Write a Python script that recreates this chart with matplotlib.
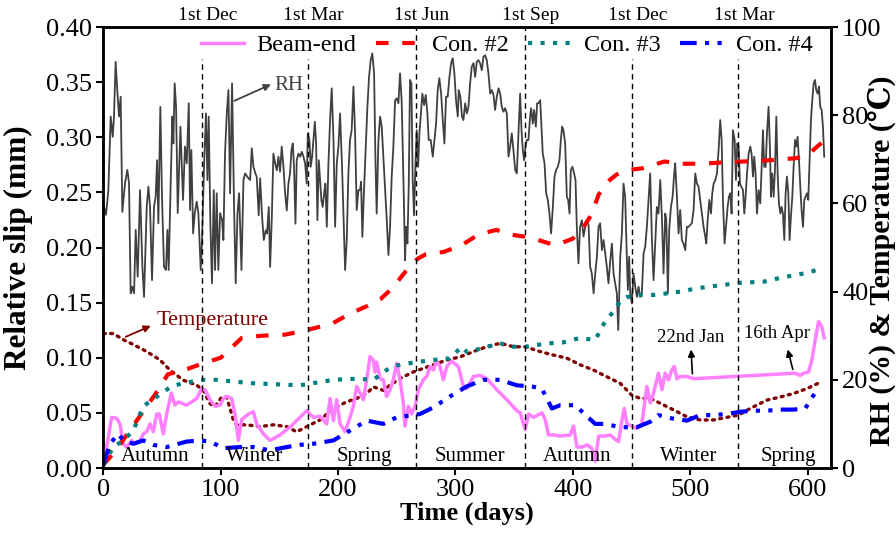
""" slip_rh_temp - relative slip of beam-end and connectors vs. RH and temperature.
"""
import matplotlib.pyplot as plt

plt.rcParams['font.family'] = ['Liberation Serif', 'DejaVu Serif', 'DejaVu Sans']

#-------------------------------------------------------------------------------
# Relative humidity (%) - right axis
rh_day = [0.0, 2.3, 4.3, 6.3, 8.0, 9.1, 10.5, 11.9, 13.4, 14.8, 16.2, 18.5, 20.5, 21.9,
          23.3, 24.7, 26.2, 27.6, 29.3, 31.3, 33.3, 34.7, 37.0, 38.4, 39.8, 41.5, 43.2,
          44.6, 45.8, 46.9, 48.6, 50.0, 51.7, 53.4, 54.6, 55.7, 57.4, 58.8, 59.7, 60.8,
          62.0, 63.4, 65.7, 67.9, 69.6, 71.1, 72.8, 73.9, 75.0, 76.5, 77.9, 79.6, 81.0,
          83.0, 84.1, 85.8, 87.5, 88.7, 89.8, 91.2, 92.6, 94.1, 95.2, 96.6, 98.0, 99.5,
          101.2, 102.3, 103.7,
          105.2, 106.6, 108.0, 109.7, 111.4, 112.8, 114.3, 115.7, 117.7, 119.4, 120.8,
          122.8, 125.1, 126.5, 127.9, 129.6, 130.7, 132.4, 133.6, 135.3, 136.7, 138.4,
          139.5, 141.0, 142.1, 143.5, 144.9, 146.4, 147.8, 149.2, 150.6, 152.0, 153.5,
          154.9, 156.3, 157.7, 159.1, 160.3, 161.4, 162.5, 163.7, 164.8, 166.2, 167.7,
          169.1, 170.5, 171.9, 173.3, 174.2, 175.6, 176.7, 177.9, 179.0, 180.2, 181.3,
          182.4, 183.6, 184.7, 185.8, 186.9, 188.1, 189.2, 190.4, 191.8, 193.2, 194.6,
          196.1, 197.5, 198.9, 200.3, 201.7, 203.4,
          206.0, 207.4, 208.8, 210.2, 211.6, 213.1, 214.5, 215.9, 217.3, 218.7, 219.6,
          220.7, 222.1, 223.6, 225.0, 226.4, 227.8, 229.2, 230.7, 231.8, 232.9, 234.4,
          235.8, 237.2, 238.6, 240.0, 241.5, 242.9, 244.3, 245.7, 247.1, 248.6, 250.0,
          251.4, 252.8, 254.2, 255.7, 257.1, 257.9, 259.1, 260.2, 261.3, 262.5, 263.6,
          264.7, 265.9, 267.0, 268.2, 269.3, 270.4, 271.8, 273.3, 274.7, 276.1, 277.2,
          278.9, 280.7, 282.1, 283.5, 284.9, 286.3, 287.8, 289.2, 290.6, 292.0, 293.4,
          294.9, 296.3, 297.7, 299.1, 300.5, 302.0, 302.8, 304.2, 305.6,
          306.8, 308.3, 309.7, 311.1, 312.5, 313.9, 315.4, 316.8, 318.2, 319.6, 321.0,
          322.5, 323.9, 325.3, 326.7, 328.1, 329.6, 331.0, 332.4, 333.8, 335.2, 336.7,
          338.1, 339.5, 340.9, 342.3, 343.8, 345.2, 346.6, 348.0, 349.4, 350.9, 352.3,
          353.7, 355.1, 356.3, 357.4, 358.5, 359.7, 360.8, 362.2, 363.6, 364.5, 365.9,
          367.0, 368.5, 369.6, 370.7, 372.2, 373.3, 374.4, 375.9, 377.3, 378.7, 380.1,
          381.5, 383.0, 384.4, 385.8, 387.2, 388.6, 389.8, 390.9, 392.0, 393.5, 394.9,
          396.0, 397.2, 398.3, 399.7, 401.1, 402.3, 403.4, 404.8, 406.2, 407.7, 409.1,
          410.6, 412.0, 413.4, 414.8, 416.2, 417.7, 419.1, 420.5, 421.9, 423.3, 424.8,
          426.2, 427.6, 429.0, 430.4, 431.9, 433.3, 434.7, 436.1, 437.5, 438.7, 440.4,
          441.8, 443.2, 444.6, 446.1, 446.9, 448.0, 448.9, 450.3, 451.7, 453.2, 454.6,
          456.0, 457.4, 458.8, 460.3, 461.7, 463.1, 464.5, 465.9, 467.4, 468.8, 470.2,
          471.6, 473.0, 474.5, 475.9, 477.3, 478.7, 479.6, 481.0, 482.1, 483.6, 485.0,
          486.4, 487.2, 488.7, 490.1, 491.5, 492.9, 494.3, 495.8, 497.2, 498.6, 500.0,
          501.4, 502.9, 504.3, 505.7, 507.1, 508.5,
          510.0, 511.4, 512.9, 513.7, 514.9, 516.3, 517.7, 518.8, 520.0, 521.4, 522.8,
          524.2, 525.6, 526.8, 527.9, 529.3, 530.5, 531.9, 533.0, 534.2, 535.3, 536.4,
          537.9, 539.0, 540.1, 541.3, 542.4, 543.5, 545.0, 546.1, 547.2, 548.4, 549.8,
          551.2, 552.3, 553.5, 554.6, 555.7, 556.9, 558.3, 559.7, 560.9, 562.0, 563.1,
          564.3, 565.4, 566.8, 568.0, 568.8, 569.9, 571.1, 572.2, 573.4, 574.5, 575.6,
          576.8, 577.9, 579.0, 580.2, 581.3, 582.4, 583.6, 584.7, 585.8, 587.0, 588.1,
          589.3, 590.4, 591.5, 592.7, 593.8, 594.9, 596.1, 597.2, 598.3, 599.5, 600.6,
          601.8, 602.9, 604.0, 605.2, 606.3, 607.4, 608.6, 609.7, 610.8, 612.0, 613.1,
          614.2]
rh_val = [60.0, 57.4, 63.0, 79.7, 75.1, 79.7, 92.1, 85.7, 79.7, 84.2, 58.1, 64.6, 67.6, 64.6,
          39.6, 41.1, 39.6, 54.0, 43.4, 63.0, 45.6, 38.8, 59.3, 63.8, 59.3, 42.6, 59.3,
          61.5, 69.8, 55.5, 81.9, 61.5, 45.6, 44.9, 54.0, 44.9, 64.6, 79.7, 73.6, 87.2,
          81.9, 57.8, 77.4, 60.8, 72.9, 69.1, 82.7, 58.5, 72.1, 53.2, 57.8, 60.4, 57.8,
          44.9, 51.7, 68.3, 80.4, 65.3, 79.7, 55.5, 41.9, 63.0, 44.9, 62.3, 44.9, 57.8,
          56.2, 51.7, 71.4,
          80.4, 85.7, 62.3, 87.2, 59.2, 41.9, 57.7, 62.3, 44.9, 65.3, 66.8,
          66.0, 65.3, 72.5, 68.3, 66.8, 66.0, 57.3, 65.7, 56.9, 51.7, 53.9,
          53.2, 59.2, 45.6, 56.2, 71.3, 69.1, 67.5, 70.6, 67.2, 72.9, 68.3,
          62.3, 58.4, 64.5, 66.8, 72.1, 73.6, 68.3, 55.4, 69.8, 71.3, 70.6,
          71.7, 70.6, 69.1, 64.5, 75.8, 74.4, 68.3, 70.6, 74.4, 78.5, 73.6,
          56.2, 69.8, 65.3, 60.7, 59.2, 62.3, 64.5, 54.7, 69.1, 78.9, 86.1,
          74.4, 54.7, 69.1, 72.9, 80.4, 68.3,
          44.9, 51.7, 66.8, 74.4, 76.6, 86.5, 75.9, 58.5, 63.0, 63.0, 64.9,
          52.4, 63.0, 72.8, 81.9, 88.7, 92.5, 94.0, 89.5, 70.6, 57.7, 74.4,
          79.7, 77.4, 70.6, 63.8, 56.2, 48.3, 54.7, 66.1, 72.8, 83.4, 83.8,
          82.7, 89.5, 83.1, 65.3, 47.1, 54.7, 50.9, 63.8, 88.0, 87.2, 65.3,
          57.3, 68.3, 76.6, 68.3, 75.9, 79.7, 84.9, 82.3, 84.6, 80.4, 74.4,
          74.4, 70.6, 74.4, 78.1, 85.7, 88.4, 84.9, 78.9, 73.6, 84.2, 84.2,
          88.7, 91.8, 92.9, 89.5, 83.4, 79.7, 85.7, 84.2, 79.7,
          78.9, 82.7, 80.4, 81.9, 87.2, 91.0, 91.8, 88.7, 92.1, 92.5, 91.8,
          90.2, 93.3, 93.6, 92.5, 89.5, 84.9, 85.7, 84.6, 81.2, 84.2, 86.1,
          84.9, 81.9, 80.8, 81.6, 80.4, 70.6, 72.9, 75.9, 72.1, 67.6, 66.8,
          75.9, 84.9, 76.6, 72.1, 69.8, 72.9, 74.4, 74.4, 79.7, 81.6, 78.1,
          81.2, 77.4, 82.7, 82.7, 83.4, 77.4, 71.3, 69.1, 62.3, 60.8, 57.7,
          53.2, 59.2, 66.1, 67.6, 68.3, 69.8, 74.4, 77.4, 76.6, 73.6, 61.5,
          60.8, 57.7, 67.6, 68.3, 66.8, 65.3, 54.7, 46.4, 54.7, 56.2, 52.5,
          54.7, 56.2, 55.1, 45.6, 44.1, 39.6, 44.1, 47.9, 54.7, 55.5, 49.4,
          51.7, 48.7, 45.6, 41.9, 47.1, 50.9, 44.1, 41.9, 39.6, 31.3, 47.9,
          53.2, 64.5, 61.5, 47.1, 40.4, 47.9, 39.6, 37.3, 44.1, 41.1, 38.8,
          41.1, 38.8, 39.6, 48.7, 50.2, 54.7, 60.8, 66.8, 51.7, 42.6, 50.9,
          59.2, 57.7, 65.3, 57.0, 44.1, 57.7, 56.6, 39.6, 54.0, 59.2, 61.5,
          66.8, 69.1, 61.5, 53.2, 58.5, 51.7, 50.9, 49.4, 54.7, 54.7, 55.1,
          55.5, 58.5, 66.8, 64.5, 63.8, 60.8,
          57.7, 54.7, 52.4, 50.9, 56.2, 60.8, 57.7, 62.3, 64.5, 65.3, 66.8,
          72.1, 78.9, 74.4, 60.8, 50.9, 54.7, 59.2, 61.5, 62.3, 57.7, 76.6,
          74.4, 65.3, 73.6, 72.9, 64.5, 63.8, 63.0, 57.7, 61.5, 66.8, 71.3,
          72.9, 71.3, 66.1, 70.6, 66.8, 57.7, 63.0, 60.0, 68.3, 76.6, 68.3,
          68.3, 75.9, 81.9, 72.1, 61.5, 66.8, 61.5, 67.5, 79.7, 66.8, 60.0,
          57.7, 59.2, 57.7, 51.7, 62.3, 66.1, 62.3, 51.7, 57.0, 61.5, 68.3,
          74.4, 72.9, 75.1, 69.8, 63.8, 58.5, 54.7, 60.8, 61.5, 62.3, 60.8,
          70.6, 78.9, 83.4, 87.2, 88.0, 85.7, 84.9, 86.5, 81.9, 81.2, 77.4,
          70.6]

# Temperature (deg C) - right axis
temp_day = [0, 8.5, 17, 25.6, 37, 48.3, 56.8, 68.2, 79.5, 85.2, 90.9, 95.2, 100.9, 105.1,
            110.8, 113.6, 122.2, 133.5, 144.9, 156.2, 164.7, 173.3, 184.6, 196, 207.3,
            215.9, 224.4, 230.1, 238.6, 244.3, 252.8, 264.2, 272.7, 281.2, 292.6, 304,
            315.3, 326.6, 338.1, 349.5, 359.4, 372.2, 383.6, 395, 406.3, 417.7, 429,
            440.4, 450.3, 457.4, 466, 477.3, 488.7, 497.2, 508.5, 519.9, 531.3, 541.2,
            551.1, 565.3, 576.7, 588, 599.4, 612.2]
temp_val = [30.5, 30.5, 29.1, 28.0, 26.4, 24.5, 22.2, 19.9, 18.8, 17.6, 14.6, 13.9, 16.1, 16.1,
            10.9, 9.8, 9.8, 9.4, 9.8, 9.4, 8.2, 9.4, 10.9, 13.5, 15.0,
            15.8, 16.9, 18.4, 17.6, 18.8, 20.3, 21.8, 22.6, 23.4, 24.5, 25.2,
            26.4, 27.5, 28.3, 27.5, 27.5, 26.4, 25.6, 24.9, 23.4, 22.2, 20.7,
            19.2, 16.5, 15.8, 15.8, 14.3, 12.8, 11.6, 10.9, 10.9, 11.5, 12.0,
            13.5, 15.4, 16.1, 16.9, 18.0, 19.6]

# Relative slip (mm) - left axis
beam_day = [0, 4.3, 7.1, 11.4, 14.2, 17, 19.9, 24.2, 27, 31.3, 34.1, 37, 39.8, 42.6, 45.5,
            47.7, 51.1, 54, 58, 61, 63.9, 71, 79.5, 83.8, 86.6, 90.9, 95.2, 99.4, 102.3,
            105.1, 109.4, 112.2, 115, 117.9, 123.6, 127.8, 130.7, 136.4, 142, 150.5, 159,
            167.6, 173.3, 179, 184.6, 190.3, 193.2, 196, 198.8, 201.7, 206, 210.2, 213,
            215.9, 221.6, 224.4, 227.2, 230, 231.5, 232.9, 235.8, 238.6, 241.4, 244.3,
            247.1, 250, 252.8, 255.6, 257, 259.9, 262.7, 265.6, 268.4, 272.7, 275.5,
            278.4, 281.2, 284, 286.9, 289.7, 292.6, 296.8, 302.5, 306.8, 309.6, 315.3,
            321, 326.8, 335.3, 343.8, 352.3, 355.2, 359.4, 362.3, 366.5, 373.6, 376.5,
            379.3, 383.6, 389.3, 397.8, 400.6, 403.5, 407.7, 412, 416.2, 419.1, 422,
            427.6, 431.9, 436.1, 439, 441.8, 443.8, 446.1, 450.3, 454.6, 458.8, 463.1,
            466, 468.8, 473, 475.9, 478.7, 481.6, 484.4, 486.4, 488.7, 491.5, 497.2,
            502.9, 589.5, 593.7, 596.6, 600.8, 603.7, 606.5, 609.4, 612.2, 614.2]
beam_slip = [0.003, 0.028, 0.046, 0.045, 0.040, 0.022, 0.019, 0.025, 0.022, 0.025, 0.031,
             0.033, 0.040, 0.033, 0.049, 0.049, 0.031, 0.049, 0.068, 0.057, 0.060, 0.057,
             0.063, 0.072, 0.071, 0.062, 0.056, 0.057, 0.063, 0.065, 0.063, 0.049, 0.025,
             0.044, 0.049, 0.051, 0.040, 0.031, 0.025, 0.030, 0.037, 0.046, 0.052, 0.046,
             0.047, 0.040, 0.063, 0.043, 0.062, 0.040, 0.033, 0.046, 0.056, 0.074, 0.062,
             0.080, 0.101, 0.098, 0.087, 0.096, 0.081, 0.080, 0.065, 0.071, 0.080, 0.095,
             0.080, 0.059, 0.038, 0.056, 0.049, 0.056, 0.071, 0.080, 0.083, 0.092, 0.089,
             0.097, 0.092, 0.080, 0.092, 0.097, 0.092, 0.074, 0.072, 0.083, 0.084, 0.081,
             0.071, 0.062, 0.052, 0.050, 0.035, 0.049, 0.046, 0.050, 0.044, 0.030, 0.030,
             0.029, 0.030, 0.038, 0.019, 0.019, 0.021, 0.018, 0.006, 0.029, 0.029, 0.030,
             0.026, 0.024, 0.043, 0.054, 0.040, 0.038, 0.036, 0.040, 0.074, 0.059, 0.068,
             0.086, 0.071, 0.086, 0.080, 0.089, 0.092, 0.081, 0.083, 0.083, 0.081, 0.086,
             0.084, 0.086, 0.087, 0.098, 0.116, 0.133, 0.128, 0.118]

con2_day = [0, 10, 20, 33, 45, 55, 72, 85, 100, 118, 135, 155, 173, 195, 210, 225, 236,
            247, 258, 268, 275, 290, 305, 320, 335, 345, 358, 370, 385, 400, 410, 416,
            422, 430, 437, 445, 460, 478, 495, 510, 525, 545, 565, 590, 600, 612]
con2_slip = [0.003, 0.015, 0.030, 0.050, 0.068, 0.085, 0.090, 0.095, 0.100, 0.118, 0.120,
             0.121, 0.125, 0.131, 0.140, 0.147, 0.153, 0.164, 0.179, 0.190, 0.194, 0.196,
             0.202, 0.212, 0.216, 0.212, 0.210, 0.207, 0.202, 0.208, 0.220, 0.230, 0.248,
             0.260, 0.266, 0.270, 0.272, 0.278, 0.276, 0.276, 0.277, 0.278, 0.279, 0.281,
             0.284, 0.295]

con3_day = [0, 8.5, 17, 25.6, 34, 58, 68, 85, 96.6, 125, 167.6, 196, 216, 230, 241.5, 250,
            265.7, 281, 295, 305.5, 310, 323.6, 338, 349.5, 359.4, 378, 392, 406, 419,
            423, 427.6, 434.7, 440.4, 446, 457, 469, 477, 491.5, 505.7, 520, 542.6, 562.5,
            579, 599.5, 609]
con3_slip = [0.003, 0.019, 0.025, 0.034, 0.056, 0.074, 0.077, 0.080, 0.080, 0.077, 0.075,
             0.080, 0.081, 0.080, 0.089, 0.093, 0.096, 0.098, 0.0995, 0.110, 0.105, 0.109,
             0.113, 0.110, 0.110, 0.113, 0.114, 0.118, 0.116, 0.124, 0.133, 0.142, 0.151,
             0.155, 0.157, 0.157, 0.158, 0.160, 0.163, 0.165, 0.168, 0.169, 0.173, 0.177,
             0.180]

con4_day = [0, 5.7, 12.8, 17, 25.6, 34, 42.6, 54, 71, 82.4, 90.9, 102.3, 116.5, 127.8, 142,
            156.2, 167.6, 179, 196, 210.2, 224.4, 238.6, 249.9, 264.2, 269.8, 281.2,
            295.4, 309.6, 323.8, 338, 352.3, 365.1, 373.6, 382.2, 389.3, 402, 412, 419.1,
            427.6, 440.4, 454.6, 466, 473, 484.4, 497.2, 508.5, 519.9, 531.3, 542.6, 554,
            565.3, 576.7, 588, 598, 605.1, 607.9]
con4_slip = [0.003, 0.022, 0.031, 0.025, 0.022, 0.025, 0.021, 0.019, 0.024, 0.025, 0.024,
             0.018, 0.019, 0.019, 0.016, 0.019, 0.021, 0.022, 0.025, 0.034, 0.043, 0.040,
             0.046, 0.048, 0.049, 0.055, 0.065, 0.074, 0.080, 0.080, 0.075, 0.074, 0.072,
             0.054, 0.057, 0.057, 0.047, 0.040, 0.040, 0.037, 0.037, 0.042, 0.048, 0.045,
             0.043, 0.048, 0.048, 0.049, 0.051, 0.052, 0.052, 0.053, 0.053, 0.054, 0.066,
             0.071]

month_day = [84, 174, 266, 359, 450, 541]
month_names = ['1st Dec', '1st Mar', '1st Jun', '1st Sep', '1st Dec', '1st Mar']
season_day = [44, 129, 222, 312, 404, 499, 584]
season_names = ['Autumn', 'Winter', 'Spring', 'Summer', 'Autumn', 'Winter', 'Spring']

#-------------------------------------------------------------------------------
fig = plt.figure(figsize=(8.96, 5.35), dpi=100)
ax1 = fig.add_axes([0.1153, 0.1252, 0.8122, 0.8243])
ax2 = ax1.twinx()

# RH and temperature on the right axis, drawn below the slip curves
ax2.plot(rh_day, rh_val, color='#404040', lw=1.3)
ax2.plot(temp_day, temp_val, color='#800000', lw=2.4, ls=(0, (0.6, 1.6)),
         dash_capstyle='round')
ax2.set_ylim(0, 100)
ax2.set_yticks([0, 20, 40, 60, 80, 100])

ax1.set_zorder(ax2.get_zorder() + 1)
ax1.patch.set_visible(False)

ax1.plot(beam_day, beam_slip, color='#FF80FF', lw=2.5, label='Beam-end')
ax1.plot(con2_day, con2_slip, color='#FF0000', lw=3, ls=(0, (3, 3.3)), label='Con. #2')
ax1.plot(con3_day, con3_slip, color='#008080', lw=3, ls=(0, (1, 2)), label='Con. #3')
ax1.plot(con4_day, con4_slip, color='#0000FF', lw=3, ls=(0, (4, 2, 1, 2, 1, 2)),
         label='Con. #4')

# Season boundaries
for i, d in enumerate(month_day):
    top = 0.40 if i in (2, 3) else 0.371
    ax1.plot([d, d], [0, top], color='k', lw=1, ls=(0, (4, 3)))
    ax1.text(d + 5, 1.027, month_names[i], transform=ax1.get_xaxis_transform(),
             ha='center', va='center', fontsize=14)
for d, name in zip(season_day, season_names):
    ax1.text(d, 0.0103, name, ha='center', va='center', fontsize=15)

# Annotations
ax1.annotate('', xy=(145, 0.349), xytext=(109.4, 0.332),
             arrowprops=dict(arrowstyle='-|>', color='#404040', lw=1.3))
ax1.text(145.5, 0.347, 'RH', color='#404040', ha='left', va='center', fontsize=15)
ax1.annotate('', xy=(42.7, 0.130), xytext=(17, 0.118),
             arrowprops=dict(arrowstyle='-|>', color='#800000', lw=1.3))
ax1.text(45.5, 0.134, 'Temperature', color='#800000', ha='left', va='center', fontsize=16)
ax1.annotate('', xy=(500.6, 0.110), xytext=(502, 0.083),
             arrowprops=dict(arrowstyle='-|>', color='k', lw=1.2))
ax1.text(500.8, 0.118, '22nd Jan', ha='center', va='center', fontsize=13.5)
ax1.annotate('', xy=(582.5, 0.110), xytext=(588, 0.087),
             arrowprops=dict(arrowstyle='-|>', color='k', lw=1.2))
ax1.text(574, 0.122, '16th Apr', ha='center', va='center', fontsize=13.5)

ax1.set_xlim(0, 620)
ax1.set_ylim(0, 0.40)
ax1.set_xticks([0, 100, 200, 300, 400, 500, 600])
ax1.set_yticks([0.00, 0.05, 0.10, 0.15, 0.20, 0.25, 0.30, 0.35, 0.40])
ax1.set_yticklabels(['%.2f' % v for v in ax1.get_yticks()])

for ax in (ax1, ax2):
    ax.tick_params(direction='out', length=5, width=1.5, labelsize=19, pad=3)
    for sp in ax.spines.values():
        sp.set_linewidth(1.8)

ax1.set_xlabel('Time (days)', fontsize=19, fontweight='bold', labelpad=0)
ax1.set_ylabel('Relative slip (mm)', fontsize=22.5, fontweight='bold')
ax1.yaxis.set_label_coords(-0.097, 0.5)
ax2.set_ylabel('RH (%) & Temperature (℃)', fontsize=21.5, fontweight='bold')
ax2.yaxis.set_label_coords(1.05, 0.47)

ax1.legend(loc='upper right', bbox_to_anchor=(0.995, 1.017), ncol=4, frameon=False,
           fontsize=17.5, handlelength=1.8, handletextpad=0.5, columnspacing=0.8,
           borderaxespad=0.2)

plt.savefig('out.png', dpi=100)
